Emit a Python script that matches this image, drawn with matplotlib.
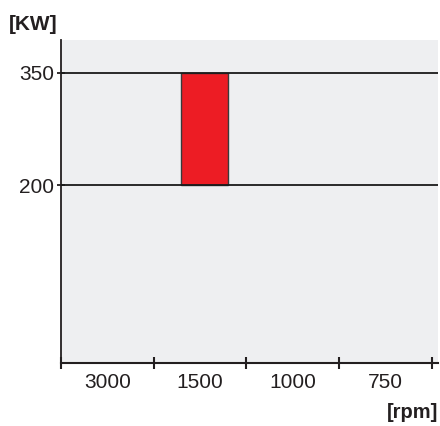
import matplotlib
matplotlib.use('Agg')
import matplotlib.pyplot as plt

# dati del grafico
speeds = ['3000', '1500', '1000', '750']
bar_low = [None, 200, None, None]
bar_high = [None, 350, None, None]
y_ticks = [200, 350]

plt.rcParams['font.family'] = ['Liberation Sans', 'DejaVu Sans']

fig = plt.figure(figsize=(4.4, 4.26), dpi=100)
ax = fig.add_axes([61 / 440, 1 - 363 / 426, 377 / 440, 323 / 426])
ax.set_facecolor('#EEEFF1')

# barra rossa (intervallo di potenza)
for i, (lo, hi) in enumerate(zip(bar_low, bar_high)):
    if lo is None:
        continue
    ax.bar(i + 0.05, hi - lo, bottom=lo, width=0.5, color='#ED1C24',
           edgecolor='#3a3a3a', linewidth=1.0, zorder=2)

# linee orizzontali ai livelli
for y in y_ticks:
    ax.axhline(y, color='#1a1a1a', linewidth=1.3, zorder=3)

ax.set_xlim(-0.5, 3.57)
ax.set_ylim(-38, 394)

ax.set_xticks([i - 0.5 for i in range(len(speeds) + 1)])
ax.set_xticklabels([])
ax.set_xticks(range(len(speeds)), minor=True)
ax.set_xticklabels(speeds, minor=True, fontsize=15, color='#231f20')
ax.tick_params(axis='x', which='major', direction='inout', length=8, width=1.5, color='#231f20')
ax.tick_params(axis='x', which='minor', length=0, pad=7)

ax.set_yticks(y_ticks)
ax.set_yticklabels([str(v) for v in y_ticks], fontsize=15, color='#231f20')
ax.tick_params(axis='y', direction='inout', length=6, width=1.3, color='#231f20', pad=2)

for s in ['top', 'right']:
    ax.spines[s].set_visible(False)
ax.spines['left'].set_linewidth(1.3)
ax.spines['bottom'].set_linewidth(1.5)
ax.spines['left'].set_color('#231f20')
ax.spines['bottom'].set_color('#231f20')

fig.text(9 / 440, 1 - 24 / 426, '[KW]', fontsize=15, fontweight='bold',
         color='#231f20', ha='left', va='center')
fig.text(438 / 440, 1 - 413 / 426, '[rpm]', fontsize=14.5, fontweight='bold',
         color='#231f20', ha='right', va='center')

plt.savefig('out.png', dpi=100)
plt.close()
